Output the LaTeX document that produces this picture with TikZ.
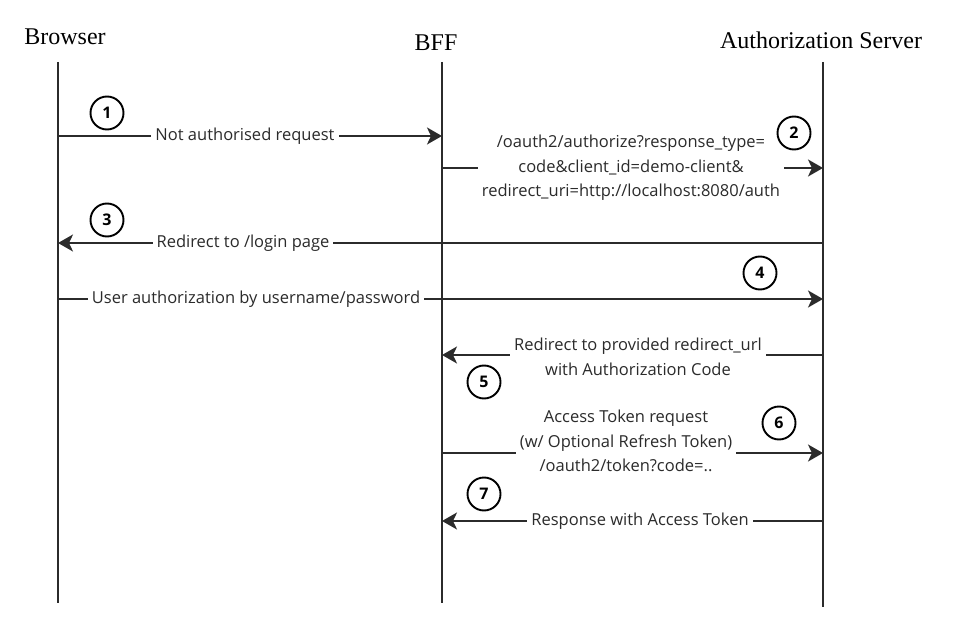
\documentclass[tikz,border=0pt]{standalone}
\usepackage{fontspec}
\setmainfont{Liberation Serif}
\newfontfamily\lblfont{Open Sans}
\usetikzlibrary{arrows.meta}
\definecolor{ink}{HTML}{2B2B2B}
\tikzset{
  life/.style={draw=ink, line width=2pt},
  msg/.style={draw=ink, line width=2pt, -{Stealth[length=15pt,width=17pt,inset=4pt]}},
  head/.style={anchor=base, font=\fontsize{24}{28}\selectfont, text=black, inner sep=0pt},
  lbl/.style={fill=white, text=ink, align=center, inner sep=4pt, font=\lblfont\fontsize{16.5}{24.5}\selectfont},
  num/.style={circle, draw=black, line width=1.9pt, minimum size=33pt, inner sep=0pt, font=\lblfont\bfseries\fontsize{16}{18}\selectfont}
}
\begin{document}
\begin{tikzpicture}[x=1pt,y=-1pt]
\useasboundingbox (0,0) rectangle (960,644);
% headers
\node[head] (hB) at (65,45) {Browser};
\node[head] (hF) at (436,51) {BFF};
\node[head] (hA) at (821,49) {Authorization Server};
% lifelines
\coordinate (Bt) at (58,62);  \coordinate (Bb) at (58,603);
\coordinate (Ft) at (442,62); \coordinate (Fb) at (442,603);
\coordinate (At) at (823,62); \coordinate (Ab) at (823,607);
\draw[life] (Bt) -- (Bb);
\draw[life] (Ft) -- (Fb);
\draw[life] (At) -- (Ab);
% message end points
\coordinate (B1) at (58,136);  \coordinate (F1) at (442,136);
\coordinate (F2) at (442,168); \coordinate (A2) at (823,168);
\coordinate (A3) at (823,243); \coordinate (B3) at (58,243);
\coordinate (B4) at (58,299);  \coordinate (A4) at (823,299);
\coordinate (A5) at (823,355); \coordinate (F5) at (442,355);
\coordinate (F6) at (442,453); \coordinate (A6) at (823,453);
\coordinate (A7) at (823,521); \coordinate (F7) at (442,521);
% messages
\draw[msg] (B1) -- (F1);
\node[lbl] (l1) at (245,136) {Not authorised request};
\draw[msg] (F2) -- (A2);
\node[lbl] (l2) at (631,168) {/oauth2/authorize?response\_type=\\code\&client\_id=demo-client\&\\redirect\_uri=http://localhost:8080/auth};
\draw[msg] (A3) -- (B3);
\node[lbl] (l3) at (243,243) {Redirect to /login page};
\draw[msg] (B4) -- (A4);
\node[lbl] (l4) at (256,299) {User authorization by username/password};
\draw[msg] (A5) -- (F5);
\node[lbl] (l5) at (638,357) {Redirect to provided redirect\_url\\with Authorization Code};
\draw[msg] (F6) -- (A6);
\node[lbl] (l6) at (626,441) {Access Token request\\(w/ Optional Refresh Token)\\/oauth2/token?code=..};
\draw[msg] (A7) -- (F7);
\node[lbl] (l7) at (640,521) {Response with Access Token};
% step numbers
\node[num] (n1) at (107,113) {1};
\node[num] (n2) at (794,133) {2};
\node[num] (n3) at (107,220) {3};
\node[num] (n4) at (760,273) {4};
\node[num] (n5) at (484,382) {5};
\node[num] (n6) at (779,423) {6};
\node[num] (n7) at (484,494) {7};
\end{tikzpicture}
\end{document}
